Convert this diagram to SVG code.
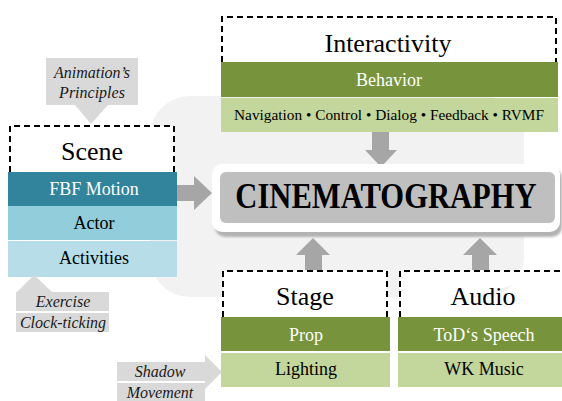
<svg xmlns="http://www.w3.org/2000/svg" width="562" height="401" viewBox="0 0 562 401">
  <defs>
    <style>
      text { text-anchor: middle; }
      .head { font-size: 26px; fill: #000; }
      .bar { font-size: 18px; }
      .wt { fill: #fff; }
      .bk { fill: #000; }
      .note { font-size: 16px; font-style: italic; fill: #1a1a1a; }
      .dash { fill: #fff; stroke: #000; stroke-width: 2; stroke-dasharray: 6 4; }
      .callout { fill: #d9d9d9; }
      .arrow { fill: #a6a6a6; }
    </style>
    <filter id="soft" x="-5%" y="-10%" width="110%" height="130%">
      <feGaussianBlur stdDeviation="1"/>
    </filter>
  </defs>

  <g font-family="Liberation Serif, Times New Roman, serif">
  <!-- backdrop panel -->
  <rect x="150" y="96" width="374" height="201" rx="40" fill="#f2f2f2"/>

  <!-- connectors -->
  <g id="connectors">
    <!-- Scene -> core -->
    <polygon class="arrow" points="177,185 194,185 194,176 212,193 194,210 194,201 177,201"/>
    <!-- Interactivity -> core -->
    <polygon class="arrow" points="372,132 389,132 389,150 397,150 381,167 365,150 372,150"/>
    <!-- Stage -> core -->
    <polygon class="arrow" points="305,270 322,270 322,255 330,255 313,238 296,255 305,255"/>
    <!-- Audio -> core -->
    <polygon class="arrow" points="472,270 489,270 489,255 497,255 480,238 463,255 472,255"/>
  </g>

  <!-- core node -->
  <g id="cinematography">
    <rect x="215" y="168" width="347" height="69" rx="10" fill="#b3b3b3" filter="url(#soft)"/>
    <rect x="212" y="164" width="348" height="68" rx="10" fill="#fff"/>
    <rect x="220" y="172" width="335" height="51" rx="6" fill="#bfbfbf"/>
    <text transform="translate(386,208) scale(0.85,1)" x="0" y="0" font-size="36" font-weight="bold">CINEMATOGRAPHY</text>
  </g>

  <!-- Interactivity -->
  <g id="interactivity">
    <path class="dash" d="M222,62 V17 H556 V62"/>
    <text class="head" x="388" y="52">Interactivity</text>
    <rect x="221" y="62" width="337" height="35" fill="#77933c"/>
    <text class="bar wt" x="389" y="86">Behavior</text>
    <rect x="221" y="98" width="337" height="34" fill="#c3d69b"/>
    <text class="bk" x="389" y="120" font-size="15" textLength="310" lengthAdjust="spacingAndGlyphs">Navigation • Control • Dialog • Feedback • RVMF</text>
  </g>

  <!-- Scene -->
  <g id="scene">
    <path class="dash" d="M10,172 V126 H174 V172"/>
    <text class="head" x="92" y="160">Scene</text>
    <rect x="8" y="172" width="169" height="34" fill="#31849b"/>
    <text class="bar wt" x="94" y="195">FBF Motion</text>
    <rect x="8" y="206" width="169" height="34" fill="#92cddc"/>
    <text class="bar bk" x="94" y="229">Actor</text>
    <rect x="8" y="241" width="169" height="36" fill="#b7dee8"/>
    <text class="bar bk" x="94" y="264">Activities</text>
  </g>

  <!-- Stage -->
  <g id="stage">
    <path class="dash" d="M223,317 V271 H387 V317"/>
    <text class="head" x="305" y="305">Stage</text>
    <rect x="221" y="317" width="169" height="34" fill="#77933c"/>
    <text class="bar wt" x="306" y="341">Prop</text>
    <rect x="221" y="353" width="169" height="34" fill="#c3d69b"/>
    <text class="bar bk" x="306" y="375">Lighting</text>
  </g>

  <!-- Audio -->
  <g id="audio">
    <path class="dash" d="M400,317 V271 H562"/>
    <text class="head" x="483" y="305">Audio</text>
    <rect x="398" y="317" width="164" height="34" fill="#77933c"/>
    <text class="bar wt" x="484" y="341">ToD‘s Speech</text>
    <rect x="398" y="353" width="164" height="34" fill="#c3d69b"/>
    <text class="bar bk" x="484" y="375">WK Music</text>
  </g>

  <!-- annotation: principles -->
  <g id="note-principles">
    <polygon class="callout" points="46,58 138,58 138,105 108,105 91,124 75,105 46,105"/>
    <text class="note" x="92" y="78">Animation’s</text>
    <text class="note" x="92" y="98">Principles</text>
  </g>

  <!-- annotation: activities -->
  <g id="note-activities">
    <polygon class="callout" points="34,275 52,292 109,292 109,311 16,311 16,292 17,292"/>
    <rect class="callout" x="16" y="313" width="93" height="19"/>
    <text class="note" x="63" y="307">Exercise</text>
    <text class="note" x="63" y="328">Clock-ticking</text>
  </g>

  <!-- annotation: lighting -->
  <g id="note-lighting">
    <polygon class="callout" points="117,362 205,362 205,355 222,372 205,389 205,381 117,381"/>
    <rect class="callout" x="117" y="383" width="88" height="18"/>
    <text class="note" x="160" y="377">Shadow</text>
    <text class="note" x="160" y="398">Movement</text>
  </g>
  </g>
</svg>
